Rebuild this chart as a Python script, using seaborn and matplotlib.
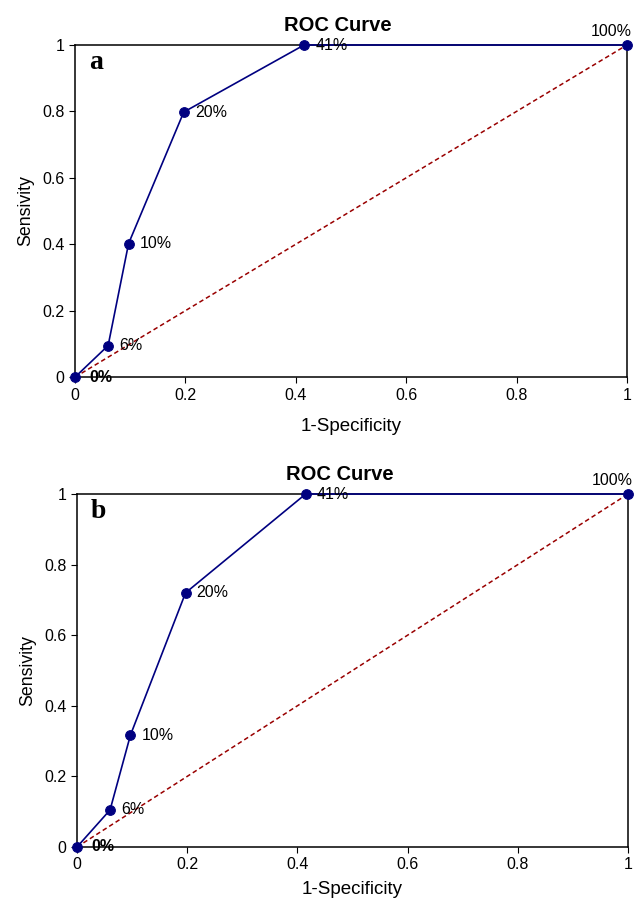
import numpy as np
import pandas as pd
import matplotlib
matplotlib.use("Agg")
import matplotlib.pyplot as plt
import seaborn as sns

# ROC points (1-specificity, sensitivity) and the cut-off labels
fpr = [0, 0.06, 0.097, 0.197, 0.415, 1]
tpr_a = [0, 0.095, 0.402, 0.798, 1, 1]
tpr_b = [0, 0.105, 0.317, 0.72, 1, 1]
point_labels = ["0%", "6%", "10%", "20%", "41%", "100%"]
ticks = [0, 0.2, 0.4, 0.6, 0.8, 1]
tick_labels = ["0", "0.2", "0.4", "0.6", "0.8", "1"]

sns.set_style("ticks")
plt.rcParams['font.family'] = ['Liberation Sans', 'DejaVu Sans']
plt.rcParams['text.color'] = 'black'
plt.rcParams['axes.labelcolor'] = 'black'
plt.rcParams['xtick.color'] = 'black'
plt.rcParams['ytick.color'] = 'black'

fig = plt.figure(figsize=(6.38, 9), dpi=100)
ax_a = fig.add_axes([0.1176, 0.581, 0.865, 0.369])
ax_b = fig.add_axes([0.1207, 0.0589, 0.8636, 0.3922])


def roc_panel(ax, tpr, letter, xpad):
    df = pd.DataFrame({"fpr": fpr, "tpr": tpr})
    # chance line
    sns.lineplot(x=[0, 1], y=[0, 1], ax=ax, color="#990000", lw=1.1,
                 linestyle=(0, (3, 2)), zorder=2)
    sns.lineplot(data=df, x="fpr", y="tpr", ax=ax, color="#000080", lw=1.2,
                 marker="o", markersize=7, markeredgecolor="#000080",
                 sort=False, zorder=3, clip_on=False)

    for xv, yv, lab in zip(fpr, tpr, point_labels):
        if lab == "0%":
            ax.annotate(lab, (xv, yv), xytext=(10, 0), textcoords="offset points",
                        ha="left", va="center", fontsize=11.5, fontweight="bold")
        elif lab == "100%":
            ax.annotate(lab, (xv, yv), xytext=(-11, 10), textcoords="offset points",
                        ha="center", va="center", fontsize=11.5)
        else:
            ax.annotate(lab, (xv, yv), xytext=(8, 0), textcoords="offset points",
                        ha="left", va="center", fontsize=11.5)

    ax.set_xlim(0, 1)
    ax.set_ylim(0, 1)
    ax.set_xticks(ticks)
    ax.set_xticklabels(tick_labels)
    ax.set_yticks(ticks)
    ax.set_yticklabels(tick_labels)
    ax.tick_params(labelsize=11.5, length=4, width=0.8, color="black")
    ax.set_xlabel("1-Specificity", fontsize=13.5, labelpad=xpad)
    ax.set_ylabel("Sensivity", fontsize=12.8, labelpad=6)
    ax.set_title("ROC Curve", fontsize=14.5, fontweight="bold", pad=10, x=0.477)
    for sp in ax.spines.values():
        sp.set_visible(True)
        sp.set_color("black")
        sp.set_linewidth(1.1)
    ax.text(0.025, 0.985, letter, transform=ax.transAxes, ha="left", va="top",
            fontsize=20, fontweight="bold", family="Liberation Serif")


roc_panel(ax_a, tpr_a, "a", 11)
roc_panel(ax_b, tpr_b, "b", 6)

fig.savefig("out.png", dpi=100)
